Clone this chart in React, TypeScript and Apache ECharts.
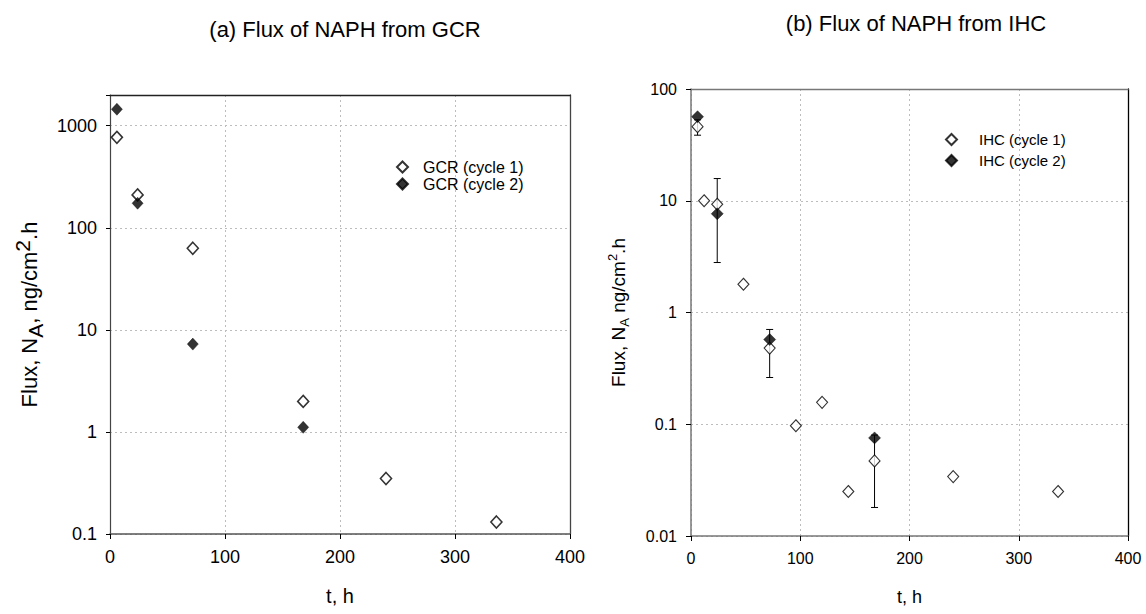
import React, { useEffect, useRef } from "react";
import * as echarts from "echarts";

// ---------- data ----------
const titleA = "(a) Flux of NAPH from GCR";
const titleB = "(b) Flux of NAPH from IHC";

const gcrTimes1 = [6, 24, 72, 168, 240, 336];
const gcrCycle1 = [770, 210, 63, 1.99, 0.35, 0.131];
const gcrTimes2 = [6, 24, 72, 168];
const gcrCycle2 = [1450, 174, 7.25, 1.11];

const ihcTimes1 = [6, 12, 24, 48, 72, 96, 120, 144, 168, 240, 336];
const ihcCycle1 = [46, 10, 9.3, 1.79, 0.48, 0.097, 0.157, 0.025, 0.047, 0.034, 0.025];
const ihcTimes2 = [6, 24, 72, 168];
const ihcCycle2 = [56.5, 7.65, 0.573, 0.0755];

const errTimes = [6, 24, 72, 168];
const errLow = [38.6, 2.8, 0.262, 0.018];
const errHigh = [53, 15.8, 0.705, 0.08];

const xTicks = [0, 100, 200, 300, 400];

const FONT = "'Liberation Sans', Arial, Helvetica, sans-serif";

const fmtLog = (v: number) => {
  const r = Number(v.toPrecision(6));
  const l = Math.log10(r);
  if (Math.abs(l - Math.round(l)) > 1e-6) return "";
  return String(r);
};

export default function App() {
  const ref = useRef<HTMLDivElement>(null);
  useEffect(() => {
    if (!ref.current) return;
    const chart = echarts.init(ref.current, undefined, { renderer: "svg" });

    const openStyle = (bw: number) => ({ color: "#ffffff", borderColor: "#000000", borderWidth: bw });
    const filledStyle = { color: "#000000", borderColor: "#000000", borderWidth: 0.5 };

    const mainX = (gi: number, fs: number, axisColor: string, gap: number) => ({
      type: "value",
      gridIndex: gi,
      min: xTicks[0],
      max: xTicks[xTicks.length - 1],
      interval: 100,
      name: "t, h",
      nameLocation: "middle",
      nameGap: gap,
      nameTextStyle: { fontFamily: FONT, fontSize: fs + 2, color: "#000" },
      axisLine: { show: true, lineStyle: { color: axisColor, width: 1.5 } },
      axisTick: { show: true, inside: false, length: 5, lineStyle: { color: "#000", width: 1 } },
      axisLabel: { fontFamily: FONT, fontSize: fs, color: "#000", margin: 14 },
      splitLine: { show: true, lineStyle: { type: [2, 3], color: "#bdbdbd", width: 1 } },
    });
    const borderX = (gi: number, color: string) => ({
      type: "value",
      gridIndex: gi,
      position: "top",
      min: 0,
      max: 400,
      interval: 100,
      axisLine: { show: true, onZero: false, lineStyle: { color, width: 1.3 } },
      axisTick: { show: false },
      axisLabel: { show: false },
      splitLine: { show: false },
    });
    const borderY = (gi: number, min: number, max: number, color: string) => ({
      type: "log",
      gridIndex: gi,
      position: "right",
      min,
      max,
      axisLine: { show: true, onZero: false, lineStyle: { color, width: 1.3 } },
      axisTick: { show: false },
      axisLabel: { show: false },
      splitLine: { show: false },
    });

    const errData = errTimes.map((t, i) => [t, errLow[i], errHigh[i]]);

    const option: any = {
      animation: false,
      backgroundColor: "#ffffff",
      textStyle: { fontFamily: FONT },
      title: [
        {
          text: titleA,
          left: 340,
          top: 13,
          textAlign: "center",
          textStyle: { fontFamily: FONT, fontSize: 22, fontWeight: "normal", color: "#000" },
        },
        {
          text: titleB,
          left: 911,
          top: 7,
          textAlign: "center",
          textStyle: { fontFamily: FONT, fontSize: 22, fontWeight: "normal", color: "#000" },
        },
      ],
      legend: [
        {
          orient: "vertical",
          left: 391,
          top: 154,
          itemWidth: 11,
          itemHeight: 11,
          itemGap: 1,
          data: ["GCR (cycle 1)", "GCR (cycle 2)"],
          textStyle: { fontFamily: FONT, fontSize: 16, color: "#000", padding: [0, 0, 0, 10] },
        },
        {
          orient: "vertical",
          left: 940,
          top: 127,
          itemWidth: 11,
          itemHeight: 11,
          itemGap: 6,
          data: ["IHC (cycle 1)", "IHC (cycle 2)"],
          textStyle: { fontFamily: FONT, fontSize: 15, color: "#000", padding: [0, 0, 0, 17] },
        },
      ],
      grid: [
        { left: 110, right: 576, top: 95, bottom: 80, containLabel: false },
        { left: 691, right: 18, top: 89, bottom: 78, containLabel: false },
      ],
      xAxis: [
        mainX(0, 18, "#555", 52),
        mainX(1, 16, "#777", 52),
        borderX(0, "#222"),
        borderX(1, "#777"),
      ],
      yAxis: [
        {
          type: "log",
          gridIndex: 0,
          min: 0.1,
          max: 2000,
          name: "Flux, N{sub|A}, ng/cm{sup|2}.h",
          nameLocation: "middle",
          nameGap: 64,
          nameTextStyle: {
            fontFamily: FONT,
            fontSize: 22,
            color: "#000",
            lineHeight: 34,
            rich: {
              sub: { fontFamily: FONT, fontSize: 21, color: "#000", verticalAlign: "bottom", lineHeight: 28 },
              sup: { fontFamily: FONT, fontSize: 21, color: "#000", verticalAlign: "top", lineHeight: 22 },
            },
          },
          axisLine: { show: true, onZero: false, lineStyle: { color: "#444", width: 1.2 } },
          axisTick: { show: true, length: 4, lineStyle: { color: "#000" } },
          axisLabel: { fontFamily: FONT, fontSize: 18, color: "#000", margin: 13, formatter: fmtLog },
          splitLine: { show: true, lineStyle: { type: [2, 3], color: "#bdbdbd", width: 1 } },
        },
        {
          type: "log",
          gridIndex: 1,
          min: 0.01,
          max: 100,
          name: "Flux, N{sub|A} ng/cm{sup|2}.h",
          nameLocation: "middle",
          nameGap: 60,
          nameTextStyle: {
            fontFamily: FONT,
            fontSize: 19,
            color: "#000",
            lineHeight: 25,
            rich: {
              sub: { fontFamily: FONT, fontSize: 13, color: "#000", verticalAlign: "bottom", lineHeight: 25 },
              sup: { fontFamily: FONT, fontSize: 13, color: "#000", verticalAlign: "top", lineHeight: 25 },
            },
          },
          axisLine: { show: true, onZero: false, lineStyle: { color: "#777", width: 1.5 } },
          axisTick: { show: true, length: 5, lineStyle: { color: "#000" } },
          axisLabel: { fontFamily: FONT, fontSize: 16, color: "#000", margin: 14, formatter: fmtLog },
          splitLine: { show: true, lineStyle: { type: [2, 3], color: "#bdbdbd", width: 1 } },
        },
        borderY(0, 0.1, 2000, "#444"),
        borderY(1, 0.01, 100, "#000"),
      ],
      series: [
        {
          name: "GCR (cycle 1)",
          type: "scatter",
          xAxisIndex: 0,
          yAxisIndex: 0,
          symbol: "diamond",
          symbolSize: [11, 12],
          itemStyle: openStyle(1.6),
          data: gcrTimes1.map((t, i) => [t, gcrCycle1[i]]),
          z: 3,
        },
        {
          name: "GCR (cycle 2)",
          type: "scatter",
          xAxisIndex: 0,
          yAxisIndex: 0,
          symbol: "diamond",
          symbolSize: [11, 12],
          itemStyle: filledStyle,
          data: gcrTimes2.map((t, i) => [t, gcrCycle2[i]]),
          z: 4,
        },
        {
          name: "IHC error",
          type: "custom",
          xAxisIndex: 1,
          yAxisIndex: 1,
          encode: { x: 0, y: [1, 2] },
          data: errData,
          z: 2,
          renderItem: (params: any, api: any) => {
            const t = api.value(0);
            const lo = api.coord([t, api.value(1)]);
            const hi = api.coord([t, api.value(2)]);
            const cap = 3.5;
            const style = { stroke: "#000", lineWidth: 1 };
            return {
              type: "group",
              children: [
                { type: "line", shape: { x1: lo[0], y1: lo[1], x2: hi[0], y2: hi[1] }, style },
                { type: "line", shape: { x1: lo[0] - cap, y1: lo[1], x2: lo[0] + cap, y2: lo[1] }, style },
                { type: "line", shape: { x1: hi[0] - cap, y1: hi[1], x2: hi[0] + cap, y2: hi[1] }, style },
              ],
            };
          },
        },
        {
          name: "IHC (cycle 1)",
          type: "scatter",
          xAxisIndex: 1,
          yAxisIndex: 1,
          symbol: "diamond",
          symbolSize: [11, 12],
          itemStyle: openStyle(1.1),
          data: ihcTimes1.map((t, i) => [t, ihcCycle1[i]]),
          z: 3,
        },
        {
          name: "IHC (cycle 2)",
          type: "scatter",
          xAxisIndex: 1,
          yAxisIndex: 1,
          symbol: "diamond",
          symbolSize: [12, 12],
          itemStyle: filledStyle,
          data: ihcTimes2.map((t, i) => [t, ihcCycle2[i]]),
          z: 4,
        },
      ],
    };

    chart.setOption(option);
    return () => chart.dispose();
  }, []);

  return (
    <div
      ref={ref}
      style={{ position: "absolute", left: 0, top: 0, width: 1146, height: 614, background: "#fff" }}
    />
  );
}
